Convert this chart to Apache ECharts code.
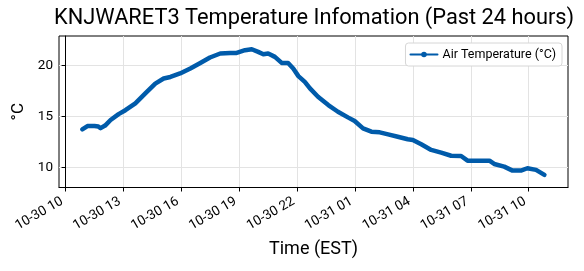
<!DOCTYPE html>
<html>
<head>
<meta charset="utf-8">
<script src="https://cdn.jsdelivr.net/npm/echarts@6/dist/echarts.min.js"></script>
<style>
html,body{margin:0;padding:0;background:#fff;}
#chart{width:584px;height:271px;}
</style>
</head>
<body>
<div id="chart"></div>
<script>
var times = ['10-30 10:52','10-30 11:08','10-30 11:30','10-30 11:42','10-30 11:49','10-30 12:03','10-30 12:20','10-30 12:45','10-30 13:06','10-30 13:37','10-30 14:08','10-30 14:39','10-30 15:05','10-30 15:26','10-30 15:56','10-30 16:28','10-30 16:59','10-30 17:29','10-30 18:01','10-30 18:32','10-30 18:52','10-30 19:18','10-30 19:39','10-30 19:59','10-30 20:15','10-30 20:30','10-30 20:51','10-30 21:12','10-30 21:32','10-30 21:48','10-30 22:04','10-30 22:24','10-30 22:40','10-30 23:05','10-30 23:37','10-31 00:07','10-31 00:38','10-31 00:59','10-31 01:25','10-31 01:51','10-31 02:17','10-31 02:43','10-31 03:13','10-31 03:44','10-31 04:00','10-31 04:26','10-31 04:57','10-31 05:28','10-31 05:59','10-31 06:30','10-31 06:50','10-31 07:22','10-31 07:58','10-31 08:13','10-31 08:44','10-31 09:10','10-31 09:36','10-31 09:56','10-31 10:23','10-31 10:49'];
var airTemp = [13.73,14.05,14.05,14.0,13.85,14.1,14.64,15.22,15.6,16.27,17.24,18.2,18.7,18.85,19.19,19.68,20.22,20.75,21.14,21.2,21.2,21.46,21.56,21.3,21.07,21.14,20.81,20.22,20.22,19.67,18.93,18.37,17.73,16.91,16.1,15.45,14.9,14.55,13.83,13.5,13.44,13.24,13.01,12.76,12.69,12.27,11.72,11.45,11.15,11.13,10.67,10.67,10.67,10.35,10.09,9.7,9.7,9.93,9.77,9.28];
// Tick labels
var xTickLabels = ['10-30 10','10-30 13','10-30 16','10-30 19','10-30 22','10-31 01','10-31 04','10-31 07','10-31 10'];
var yTicks = [10, 15, 20];

function toHours(s){ // hours since 10-30 10:00
  var d = parseInt(s.slice(3,5),10), h = parseInt(s.slice(6,8),10), m = parseInt(s.slice(9,11),10);
  return (d-30)*24 + h - 10 + m/60;
}
var xTicks = xTickLabels.map(function(s){ return toHours(s + ':00'); });
var seriesData = times.map(function(t,i){ return [toHours(t), airTemp[i]]; });
function fmtX(v){
  var i = xTicks.indexOf(Math.round(v));
  return i >= 0 ? xTickLabels[i] : '';
}

var chart = echarts.init(document.getElementById('chart'));
var FONT = 'Roboto';
chart.setOption({
  animation: false,
  textStyle: {fontFamily: FONT},
  title: {
    text: 'KNJWARET3 Temperature Infomation (Past 24 hours)',
    left: 54, top: 8,
    padding: 0,
    textStyle: {fontFamily: FONT, fontSize: 21.8, fontWeight: 'normal', color: '#000'}
  },
  legend: {
    right: 22, top: 43,
    padding: [5, 6, 5, 4],
    itemWidth: 27, itemHeight: 7, itemGap: 5,
    backgroundColor: '#fff',
    borderColor: '#d6d6d6', borderWidth: 1, borderRadius: 3,
    textStyle: {fontFamily: FONT, fontSize: 12.5, color: '#000'},
    data: ['Air Temperature (°C)']
  },
  grid: {left: 59, right: 16, top: 36, bottom: 83.5, show: true, borderColor: '#000', borderWidth: 1, backgroundColor: 'transparent'},
  xAxis: {
    type: 'value', min: -0.34, max: 26.04, interval: 3,
    name: 'Time (EST)', nameLocation: 'middle', nameGap: 53,
    nameTextStyle: {fontFamily: FONT, fontSize: 18, color: '#000'},
    axisLine: {show: true, lineStyle: {color: '#000', width: 1}},
    axisTick: {show: true, length: 4, customValues: xTicks, lineStyle: {color: '#000'}},
    axisLabel: {customValues: xTicks, rotate: 30, fontFamily: FONT, fontSize: 13.5, color: '#000', margin: 11, padding: [0, 4, 0, 0], formatter: fmtX},
    splitLine: {show: true, lineStyle: {color: '#e3e3e3', width: 1}}
  },
  yAxis: {
    type: 'value', min: 8.05, max: 22.85, interval: 5,
    name: '°C', nameLocation: 'middle', nameGap: 29, nameRotate: 90,
    nameTextStyle: {fontFamily: FONT, fontSize: 17, color: '#000'},
    axisLine: {show: true, lineStyle: {color: '#000', width: 1}},
    axisTick: {show: true, length: 4, customValues: yTicks, lineStyle: {color: '#000'}},
    axisLabel: {customValues: yTicks, fontFamily: FONT, fontSize: 13.5, color: '#000', margin: 6},
    splitLine: {show: true, lineStyle: {color: '#e3e3e3', width: 1}}
  },
  series: [{
    name: 'Air Temperature (°C)',
    type: 'line',
    data: seriesData,
    showSymbol: false,
    symbol: 'circle',
    color: '#005baa',
    lineStyle: {width: 4.5, color: '#005baa', cap: 'round', join: 'round'}
  }]
});
</script>
</body>
</html>
